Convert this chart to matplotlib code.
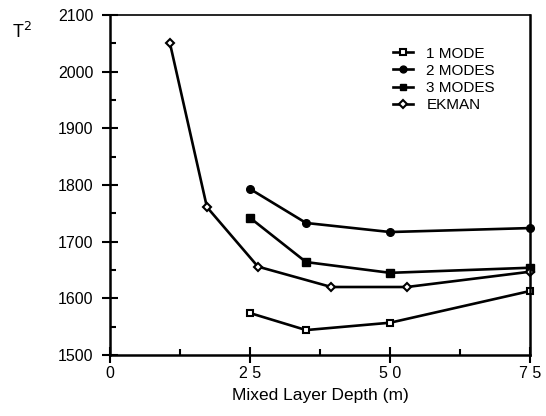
import matplotlib.pyplot as plt
from matplotlib.ticker import MultipleLocator

plt.rcParams['font.family'] = ['Liberation Sans', 'DejaVu Sans']

depth_modes = [25, 35, 50, 75]
mode1 = [1574, 1544, 1557, 1613]
mode2 = [1793, 1733, 1717, 1724]
mode3 = [1742, 1664, 1645, 1654]
depth_ekman = [10.7, 17.3, 26.4, 39.5, 53, 75]
ekman = [2050, 1761, 1656, 1620, 1620, 1647]

fig = plt.figure(figsize=(5.46, 4.16), dpi=100)
ax = fig.add_axes([0.2015, 0.1466, 0.7695, 0.8174])

lw = 1.9
ax.plot(depth_modes, mode1, color='black', lw=lw, marker='s', ms=5,
        mfc='white', mec='black', mew=1.5, label='1 MODE', clip_on=False)
ax.plot(depth_modes, mode2, color='black', lw=lw, marker='o', ms=5.5,
        mfc='black', mec='black', label='2 MODES', clip_on=False)
ax.plot(depth_modes, mode3, color='black', lw=lw, marker='s', ms=5.5,
        mfc='black', mec='black', label='3 MODES', clip_on=False)
ax.plot(depth_ekman, ekman, color='black', lw=lw, marker='D', ms=4.5,
        mfc='white', mec='black', mew=1.5, label='EKMAN', clip_on=False)

ax.set_xlim(0, 75)
ax.set_ylim(1500, 2100)
ax.xaxis.set_major_locator(MultipleLocator(25))
ax.xaxis.set_minor_locator(MultipleLocator(12.5))
ax.yaxis.set_major_locator(MultipleLocator(100))
ax.yaxis.set_minor_locator(MultipleLocator(50))
ax.set_xticks([0, 25, 50, 75], ['0', '2 5', '5 0', '7 5'])

ax.spines['top'].set_linewidth(1.2)
for s in ['left', 'bottom', 'right']:
    ax.spines[s].set_linewidth(1.8)
ax.tick_params(which='major', direction='inout', length=12, width=1.5,
               labelsize=11.5, right=False, top=False)
ax.tick_params(axis='y', which='major', pad=6)
ax.tick_params(axis='x', which='major', pad=2)
ax.tick_params(which='minor', direction='in', length=4, width=1.5)

ax.set_xlabel('Mixed Layer Depth (m)', fontsize=12.5, labelpad=5)
fig.text(0.022, 0.909, r'T$^2$', fontsize=13)

ax.legend(loc='upper left', bbox_to_anchor=(0.64, 0.947), frameon=False,
          fontsize=11, handlelength=1.3, labelspacing=0.2, handletextpad=0.9,
          markerscale=0.9)

fig.savefig('out.png', dpi=100)
